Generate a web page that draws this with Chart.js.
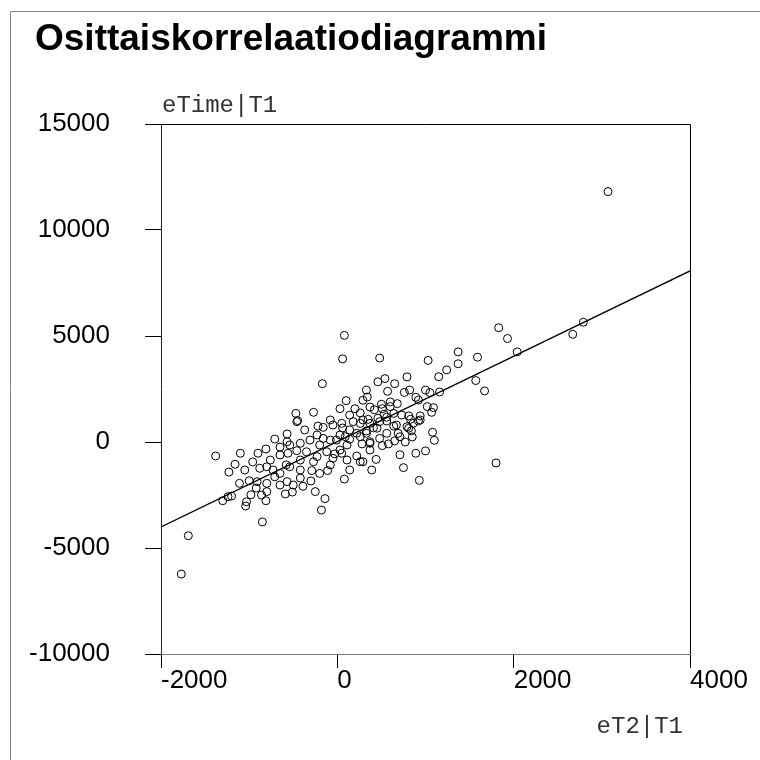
<!DOCTYPE html>
<html>
<head>
<meta charset="utf-8">
<script src="https://cdn.jsdelivr.net/npm/chart.js@4/dist/chart.umd.min.js"></script>
<style>
  html, body { margin: 0; padding: 0; background: #fff; }
  #wrap { width: 760px; height: 760px; }
</style>
</head>
<body>
<div id="wrap"><canvas id="myChart" width="760" height="760"></canvas></div>
<script>
const chartTitle = "Osittaiskorrelaatiodiagrammi";
const xLabel = "eT2|T1";
const yLabel = "eTime|T1";
const xTicks = [-2000, 0, 2000, 4000];
const yTicks = [-10000, -5000, 0, 5000, 10000, 15000];

// residuals of eT2 and eTime after T1
const residX = [
  80, 60, 480, 1030, -170, 460, 540, 790, 650, 330,
  570, 760, 820, 1000, 890, 100, 290, 30, 200, -470,
  -270, -460, 500, 680, 370, 420, 510, 640, 730, 810,
  940, 1020, 530, 3070, 2790, 2670, 1830, 1930, 2040, 1370,
  1590, 1370, 1240, 1150, 1570, 1670, 1160, 1050, 1090, 1070,
  1080, 1100, 1800, 920, 940, -450, -220, -160, -50, 50,
  180, 260, 370, 480, 560, 670, 810, 860, 920, -710,
  -570, -570, -420, -230, -160, -80, 30, 90, 140, 220,
  260, 330, 370, 480, 560, 690, 710, -1380, -1100, -900,
  -810, -650, -560, -460, -350, -230, -270, -120, -50, 30,
  50, 110, 220, 260, 290, 370, 440, 510, 580, 710,
  890, 1000, -1160, -1230, -880, -800, -730, -650, -540, -420,
  -290, -200, -110, 80, 750, 930, -1110, -1000, -910, -800,
  -710, -650, -570, -500, -390, -1300, -1240, -1200, -980, -860,
  -800, -590, -250, -140, -1040, -1030, -810, -180, -850, -1690,
  -1770, 290, 640, 370, 280, -30, -10, 140, 330, 450,
  110, -200, -310, -370, -540, -650, -760, -960, -1050, -420,
  -80, 140, 390, 650, 770, 850, 600, 260, 140, 340,
  -80, -420, -580, -920, -300, -510, 600, 350, 460, 560,
  830, 790, 60, 410, 840
];
const residY = [
  5030, 3920, 3960, 3850, 2750, 2840, 2990, 3070, 2750, 2450,
  2390, 2340, 2450, 2450, 2110, 1950, 1970, 1570, 1570, 1350,
  1400, 960, 1780, 1810, 1650, 1520, 1570, 1350, 1270, 1230,
  1230, 1670, 1310, 11810, 5650, 5080, 5390, 4880, 4250, 4250,
  4000, 3690, 3400, 3080, 2900, 2410, 2360, 2330, 1620, 1400,
  460, 80, -990, 1980, 1040, 1010, 750, 690, 800, 880,
  960, 880, 880, 960, 990, 800, 650, 880, 990, 140,
  380, 10, -60, 330, 170, 90, 330, 250, 130, 410,
  250, 410, 10, 170, 410, 410, 250, -660, -530, -530,
  -330, -610, -530, -410, -460, -690, -930, -460, -770, -380,
  -530, -850, -660, -930, -930, -380, -820, -170, -90, -600,
  -530, -420, -1050, -1420, -1240, -1170, -1320, -1480, -1170, -1320,
  -1350, -1480, -1350, -1750, -1210, -1810, -1950, -1830, -1870, -1950,
  -1640, -2030, -1870, -2030, -2090, -2770, -2580, -2550, -2490, -2500,
  -2340, -2450, -2340, -2670, -3020, -2820, -2770, -3210, -3770, -4420,
  -6230, 1040, 750, -60, -90, -560, 90, 570, 520, 650,
  -140, -140, 90, 570, -140, -240, -850, -940, -1320, -850,
  -1080, -1320, -1320, 50, 0, 240, 1890, 1370, 1270, 2120,
  1040, -1700, -1080, -2170, -1840, -2360, 1670, 1070, 1120, 1170,
  1070, 720, 660, 670, 530
];

// least-squares line through the residuals, at the axis ends
const fitX = [-2000, 4000];
const fitY = [-4010, 8070];

const points = residX.map((x, i) => ({ x: x, y: residY[i] }));
const fitLine = fitX.map((x, i) => ({ x: x, y: fitY[i] }));

// frame, outer border and all free text
const frameAndLabels = {
  id: "frameAndLabels",
  afterDraw(chart) {
    const { ctx, chartArea: a } = chart;
    ctx.save();
    ctx.strokeStyle = "#858585";
    ctx.lineWidth = 1;
    ctx.beginPath();
    ctx.moveTo(10.5, 760);
    ctx.lineTo(10.5, 11.5);
    ctx.lineTo(760, 11.5);
    ctx.stroke();

    ctx.strokeStyle = "#000";
    ctx.beginPath();
    ctx.moveTo(a.left, a.top + 0.5);
    ctx.lineTo(a.right + 0.5, a.top + 0.5);
    ctx.lineTo(a.right + 0.5, a.bottom);
    ctx.stroke();

    ctx.fillStyle = "#000";
    ctx.textAlign = "left";
    ctx.textBaseline = "alphabetic";
    ctx.font = "bold 37px 'Liberation Sans', Arial, sans-serif";
    ctx.fillText(chartTitle, 35, 50);

    ctx.fillStyle = "#333";
    ctx.font = "24px 'Liberation Mono', monospace";
    ctx.textBaseline = "middle";
    ctx.fillText(yLabel, a.left + 1, 106);
    ctx.textAlign = "right";
    ctx.fillText(xLabel, a.right - 7, 727);
    ctx.restore();
  }
};

const tickFont = { family: "'Liberation Sans', Arial, sans-serif", size: 26, lineHeight: 1 };

const config = {
  type: "scatter",
  data: {
    datasets: [
      {
        label: "residuaalit",
        data: points,
        pointRadius: 4,
        pointBorderWidth: 1,
        borderColor: "#000",
        backgroundColor: "rgba(0,0,0,0)",
        pointHoverRadius: 4,
      },
      {
        type: "line",
        label: "sovite",
        data: fitLine,
        borderColor: "#000",
        borderWidth: 1.3,
        pointRadius: 0,
        fill: false,
      },
    ],
  },
  options: {
    responsive: false,
    animation: false,
    devicePixelRatio: 1,
    layout: { padding: { top: 124, right: 70, bottom: 0, left: 0 } },
    plugins: {
      legend: { display: false },
      tooltip: { enabled: false },
    },
    scales: {
      x: {
        type: "linear",
        min: -2000,
        max: 4000,
        afterBuildTicks: (axis) => { axis.ticks = xTicks.map((v) => ({ value: v })); },
        afterFit: (axis) => { axis.height = 106; },
        border: { display: true, color: "#777", width: 1 },
        grid: { drawOnChartArea: false, drawTicks: true, tickLength: 14, color: "#000" },
        ticks: {
          autoSkip: false,
          maxRotation: 0,
          align: "start",
          padding: 0,
          color: "#000",
          font: tickFont,
          callback: (v) => String(v),
        },
      },
      y: {
        type: "linear",
        min: -10000,
        max: 15000,
        afterBuildTicks: (axis) => { axis.ticks = yTicks.map((v) => ({ value: v })); },
        afterFit: (axis) => { axis.width = 161; },
        border: { display: true, color: "#222", width: 1 },
        grid: { drawOnChartArea: false, drawTicks: true, tickLength: 16, color: "#000" },
        ticks: {
          autoSkip: false,
          padding: 35,
          color: "#000",
          font: tickFont,
          callback: (v) => String(v),
        },
      },
    },
  },
  plugins: [frameAndLabels],
};

const myChart = new Chart(document.querySelector("#myChart"), config);
</script>
</body>
</html>
